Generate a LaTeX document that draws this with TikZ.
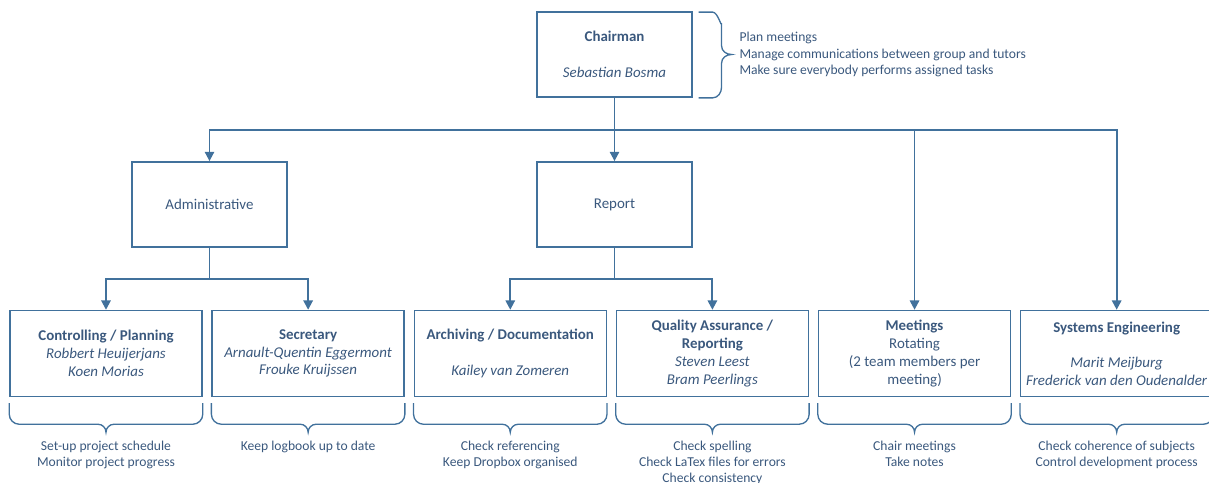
\documentclass[tikz,border=0pt]{standalone}
\usepackage{fontspec}
\setmainfont{Carlito}
\usetikzlibrary{arrows.meta,positioning,calc}
\definecolor{Line}{RGB}{65,113,156}
\definecolor{Ink}{RGB}{58,88,125}
\tikzset{
  box/.style={draw=Line,line width=1.1pt,align=center,inner sep=2pt,text=Ink,font=\fontsize{11.2}{13.3}\selectfont},
  topbox/.style={box,minimum width=116pt,minimum height=64pt},
  rolebox/.style={box,minimum width=144pt,minimum height=64.5pt},
  duty/.style={text=Ink,align=center,inner sep=0pt,font=\fontsize{10.2}{12.2}\selectfont},
  link/.style={draw=Line,line width=1.4pt},
  arr/.style={link,-{Triangle[length=7pt,width=7pt]}},
  brc/.style={draw=Line,line width=1pt},
}
% curly bracket under a role box
\newcommand{\dutybrace}[1]{%
  \draw[brc] ($(#1.south west)+(0,-6)$) -- ++(0,-11) to[out=-90,in=180] ++(10,-10)
    -- ($(#1.south)+(-8,-27)$) to[out=0,in=90] ($(#1.south)+(0,-35)$)
    to[out=90,in=180] ($(#1.south)+(8,-27)$) -- ($(#1.south east)+(-10,-27)$)
    to[out=0,in=-90] ++(10,10) -- ($(#1.south east)+(0,-6)$);}

\begin{document}
\begin{tikzpicture}[x=0.75pt,y=0.75pt]
  \useasboundingbox (0,0) rectangle (1209,-482);

  % --- top ---
  \node[topbox] (chair) at (614.5,-54.5) {\textbf{Chairman}\\[13.3pt]\textit{Sebastian Bosma}};
  \node[duty, align=left, right=35pt of chair] (chairduty) {Plan meetings\\Manage communications between group and tutors\\Make sure everybody performs assigned tasks};
  \draw[brc] ($(chair.north east)+(6,-1)$) -- ++(14,0) to[out=0,in=-90] ++(9,-11)
    -- ($(chair.east)+(29,8.5)$) to[out=-90,in=180] ($(chair.east)+(39,0)$)
    to[out=180,in=90] ($(chair.east)+(29,-8.5)$) -- ($(chair.south east)+(29,11)$)
    to[out=-90,in=0] ++(-9,-11) -- ($(chair.south east)+(6,0)$);

  % --- groups ---
  \node[topbox] (admin) at (209.5,-204.5) {Administrative};
  \node[topbox] (report) at (614.5,-204.5) {Report};

  % --- roles ---
  \node[rolebox] (plan) at (106,-353.5) {\textbf{Controlling / Planning}\\\textit{Robbert Heuijerjans}\\\textit{Koen Morias}};
  \node[rolebox, right=6.5pt of plan] (sec) {\textbf{Secretary}\\\textit{Arnault-Quentin Eggermont}\\\textit{Frouke Kruijssen}};
  \node[rolebox, right=6.5pt of sec] (arch) {\textbf{Archiving / Documentation}\\[13.3pt]\textit{Kailey van Zomeren}};
  \node[rolebox, right=6.5pt of arch] (qa) {\textbf{Quality Assurance /}\\\textbf{Reporting}\\\textit{Steven Leest}\\\textit{Bram Peerlings}};
  \node[rolebox, right=6.5pt of qa] (meet) {\textbf{Meetings}\\Rotating\\(2 team members per\\meeting)};
  \node[rolebox, right=6.5pt of meet] (syseng) {\textbf{Systems Engineering}\\[13.3pt]\textit{Marit Meijburg}\\\textit{Frederick van den Oudenalder}};

  % --- connectors ---
  \coordinate (bus) at (614.5,-130);
  \coordinate (adminbus) at (209.5,-279);
  \coordinate (reportbus) at (614.5,-279);
  \draw[link] (chair.south) -- (bus);
  \draw[arr] (bus) -| (admin.north);
  \draw[arr] (bus) -- (report.north);
  \draw[arr] (bus) -| (meet.north);
  \draw[arr] (bus) -| (syseng.north);
  \draw[link] (admin.south) -- (adminbus);
  \draw[arr] (adminbus) -| (plan.north);
  \draw[arr] (adminbus) -| (sec.north);
  \draw[link] (report.south) -- (reportbus);
  \draw[arr] (reportbus) -| (arch.north);
  \draw[arr] (reportbus) -| (qa.north);

  % --- tasks ---
  \foreach \r in {plan,sec,arch,qa,meet,syseng}{\dutybrace{\r}}
  \node[duty, below=32.5pt of plan] (plantask) {Set-up project schedule\\Monitor project progress};
  \node[duty, below=32.5pt of sec] (sectask) {Keep logbook up to date};
  \node[duty, below=32.5pt of arch] (archtask) {Check referencing\\Keep Dropbox organised};
  \node[duty, below=32.5pt of qa] (qatask) {Check spelling\\Check LaTex files for errors\\Check consistency};
  \node[duty, below=32.5pt of meet] (meettask) {Chair meetings\\Take notes};
  \node[duty, below=32.5pt of syseng] (sysengtask) {Check coherence of subjects\\Control development process};
\end{tikzpicture}
\end{document}
